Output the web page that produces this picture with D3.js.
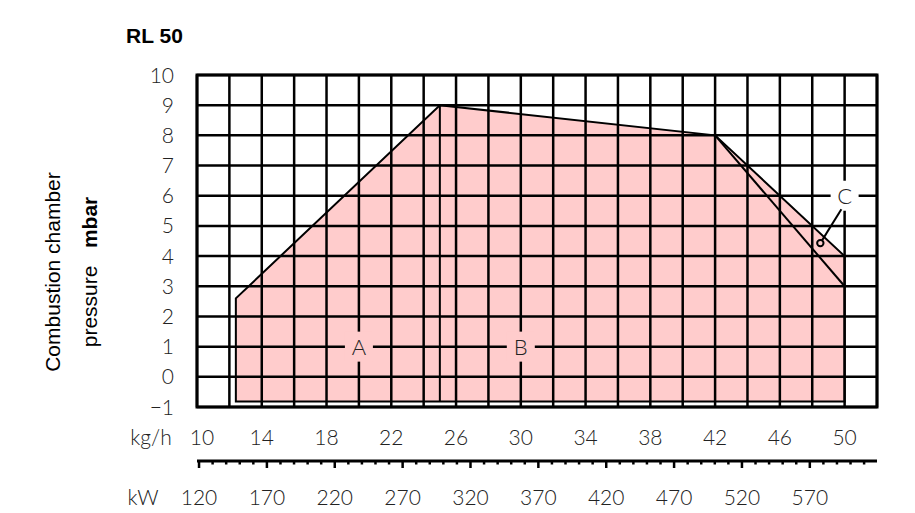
<!DOCTYPE html>
<html>
<head>
<meta charset="utf-8">
<script src="https://cdn.jsdelivr.net/npm/d3@7"></script>
<style>
  body { margin: 0; background: #fff; }
  svg text { font-family: "Liberation Sans", Arial, sans-serif; }
  .light { font-family: Lato, "Liberation Sans", sans-serif; font-weight: 300; fill: #222; }
</style>
</head>
<body>
<div id="chart"></div>
<script>
var width = 915;
var height = 513;

// axis ticks
var massTicks = [10, 14, 18, 22, 26, 30, 34, 38, 42, 46, 50];
var powerTicks = [120, 170, 220, 270, 320, 370, 420, 470, 520, 570];
var pressureTicks = [-1, 0, 1, 2, 3, 4, 5, 6, 7, 8, 9, 10];

// firing range envelope (kg/h, mbar)
var envelope = [[12.4, -0.82], [12.4, 2.6], [25, 9], [42, 8], [50, 4], [50, -0.82]];
var lowerEdge = [[42, 8], [50, 3]];       // lower limit of zone C
var divider = [[25, 9], [25, -0.82]];     // A / B boundary

// zone labels
var zoneNames = ["A", "B", "C"];
var zoneX = [20, 30, 50];
var zoneY = [1, 1, 6];
var zoneBg = ["#ffcccc", "#ffcccc", "#ffffff"];
var pointerFrom = [49.8, 5.55];
var pointerTo = [48.5, 4.43];

var svg = d3.select("#chart").append("svg")
  .attr("width", width)
  .attr("height", height);

var x = d3.scaleLinear().domain([10, 52]).range([197, 877]);
var y = d3.scaleLinear().domain([-1, 10]).range([407, 75]);
var kw = d3.scaleLinear().domain([118.5, 619.5]).range([197, 877]);

var line = d3.line()
  .x(function(d) { return x(d[0]); })
  .y(function(d) { return y(d[1]); });

// pink fill below grid
svg.append("path")
  .attr("d", line(envelope) + "Z")
  .attr("fill", "#ffcccc");

// grid
var gridX = d3.range(10, 52.01, 2);
svg.append("g").selectAll("line")
  .data(gridX).enter().append("line")
  .attr("x1", function(d) { return x(d); })
  .attr("x2", function(d) { return x(d); })
  .attr("y1", y(-1)).attr("y2", y(10))
  .attr("stroke", "#000").attr("stroke-width", 2.5);

svg.append("g").selectAll("line")
  .data(pressureTicks).enter().append("line")
  .attr("y1", function(d) { return y(d); })
  .attr("y2", function(d) { return y(d); })
  .attr("x1", x(10)).attr("x2", x(52))
  .attr("stroke", "#000").attr("stroke-width", 2.5);

// envelope outline
svg.append("path")
  .attr("d", line(envelope) + "Z")
  .attr("fill", "none").attr("stroke", "#000").attr("stroke-width", 2);
svg.append("path")
  .attr("d", line(lowerEdge))
  .attr("fill", "none").attr("stroke", "#000").attr("stroke-width", 2);
svg.append("path")
  .attr("d", line(divider))
  .attr("fill", "none").attr("stroke", "#000").attr("stroke-width", 2);

// frame
svg.append("rect")
  .attr("x", x(10)).attr("y", y(10))
  .attr("width", x(52) - x(10)).attr("height", y(-1) - y(10))
  .attr("fill", "none").attr("stroke", "#000").attr("stroke-width", 3);

// zone labels
var zones = svg.append("g").selectAll("g")
  .data(zoneNames).enter().append("g")
  .attr("transform", function(d, i) { return "translate(" + x(zoneX[i]) + "," + y(zoneY[i]) + ")"; });
zones.append("rect")
  .attr("x", -14).attr("y", -15).attr("width", 28).attr("height", 30)
  .attr("fill", function(d, i) { return zoneBg[i]; });
zones.append("text")
  .attr("class", "light")
  .attr("text-anchor", "middle")
  .attr("dy", "0.36em")
  .style("font-size", "22px")
  .text(function(d) { return d; });

// pointer to zone C
svg.append("line")
  .attr("x1", x(pointerFrom[0])).attr("y1", y(pointerFrom[1]))
  .attr("x2", x(pointerTo[0])).attr("y2", y(pointerTo[1]))
  .attr("stroke", "#000").attr("stroke-width", 2);
svg.append("circle")
  .attr("cx", x(pointerTo[0])).attr("cy", y(pointerTo[1]))
  .attr("r", 3.2)
  .attr("fill", "#ffcccc").attr("stroke", "#000").attr("stroke-width", 2);

// y tick labels
svg.append("g").selectAll("text")
  .data(pressureTicks).enter().append("text")
  .attr("class", "light")
  .attr("x", 174)
  .attr("y", function(d) { return y(d); })
  .attr("dy", "0.36em")
  .attr("text-anchor", "end")
  .style("font-size", "21px")
  .text(function(d) { return d < 0 ? "\u2212" + (-d) : d; });

// kg/h labels
svg.append("g").selectAll("text")
  .data(massTicks).enter().append("text")
  .attr("class", "light")
  .attr("x", function(d) { return x(d) + (d === 10 ? 5 : 0); })
  .attr("y", 437)
  .attr("dy", "0.36em")
  .attr("text-anchor", "middle")
  .style("font-size", "21px")
  .text(function(d) { return d; });
svg.append("text")
  .attr("class", "light")
  .attr("x", 151).attr("y", 437).attr("dy", "0.36em")
  .attr("text-anchor", "middle")
  .style("font-size", "21px")
  .text("kg/h");

// kW scale
var kwAxis = svg.append("g");
kwAxis.append("line")
  .attr("x1", kw.range()[0]).attr("x2", kw.range()[1])
  .attr("y1", 461).attr("y2", 461)
  .attr("stroke", "#000").attr("stroke-width", 3);
var minor = d3.range(120, 619, 10);
kwAxis.selectAll(".tick")
  .data(minor).enter().append("line")
  .attr("class", "tick")
  .attr("x1", function(d) { return kw(d); })
  .attr("x2", function(d) { return kw(d); })
  .attr("y1", 461)
  .attr("y2", function(d) { return (d - 120) % 50 === 0 ? 468 : 464.5; })
  .attr("stroke", "#000").attr("stroke-width", 2.5);

svg.append("g").selectAll("text")
  .data(powerTicks).enter().append("text")
  .attr("class", "light")
  .attr("x", function(d) { return kw(d); })
  .attr("y", 497)
  .attr("dy", "0.36em")
  .attr("text-anchor", "middle")
  .style("font-size", "21px")
  .text(function(d) { return d; });
svg.append("text")
  .attr("class", "light")
  .attr("x", 143).attr("y", 497).attr("dy", "0.36em")
  .attr("text-anchor", "middle")
  .style("font-size", "21px")
  .text("kW");

// title
svg.append("text")
  .attr("x", 126).attr("y", 43)
  .style("font-size", "21px").style("font-weight", "bold")
  .text("RL 50");

// y axis title
svg.append("text")
  .attr("transform", "translate(60,272) rotate(-90)")
  .attr("text-anchor", "middle")
  .style("font-size", "21px")
  .text("Combustion chamber");
var yt = svg.append("text")
  .attr("transform", "translate(97,272) rotate(-90)")
  .attr("text-anchor", "middle")
  .style("font-size", "21px")
  .style("white-space", "pre");
yt.append("tspan").text("pressure   ");
yt.append("tspan").style("font-weight", "bold").text("mbar");
</script>
</body>
</html>
